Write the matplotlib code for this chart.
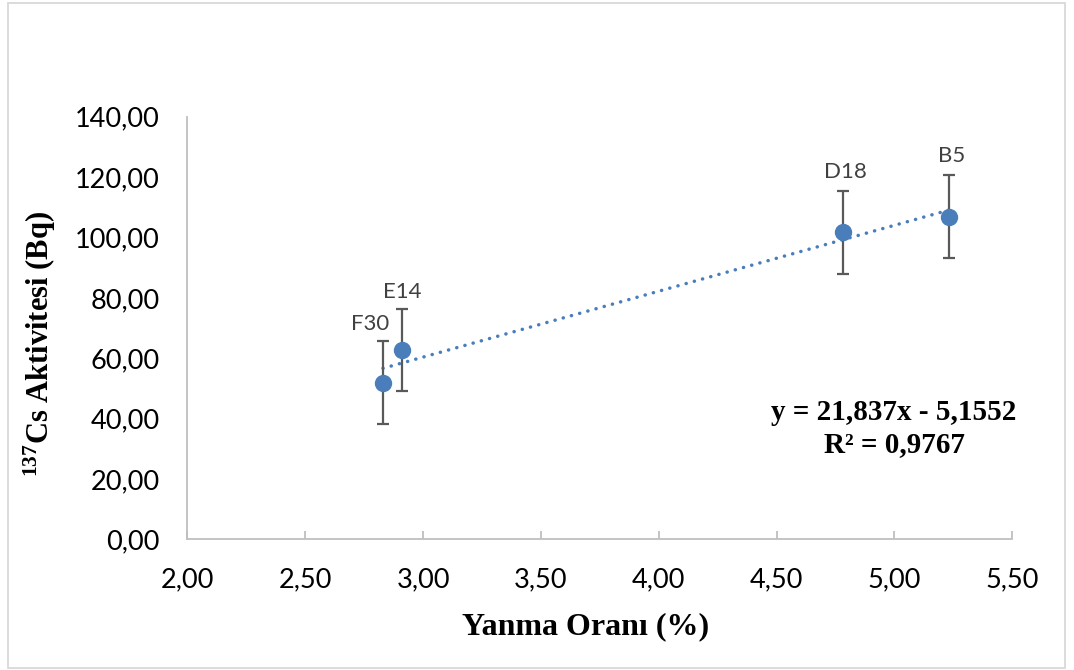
import matplotlib
matplotlib.use("Agg")
import matplotlib.pyplot as plt
from matplotlib.patches import Rectangle
from matplotlib.ticker import FuncFormatter, MultipleLocator

# Burn-up ratio (%) vs. 137Cs activity (Bq) for each sample
samples = ["F30", "E14", "D18", "B5"]
burnup = [2.83, 2.91, 4.78, 5.23]
activity = [51.9, 62.7, 101.7, 106.9]
activity_err = [13.8, 13.7, 13.8, 13.8]

# Linear trendline coefficients
slope = 21.837
intercept = -5.1552
r_squared = 0.9767

plt.rcParams["mathtext.fontset"] = "custom"
plt.rcParams["mathtext.rm"] = "Liberation Serif:bold"
plt.rcParams["mathtext.bf"] = "Liberation Serif:bold"

fig = plt.figure(figsize=(10.74, 6.70), dpi=100)
ax = fig.add_axes([0.1744, 0.1951, 0.9426 - 0.1744, 0.8258 - 0.1951])

blue = "#4A7EBB"
axis_gray = "#BFBFBF"

# trendline over the data range
x0, x1 = min(burnup), max(burnup)
ax.plot([x0, x1], [slope * x0 + intercept, slope * x1 + intercept],
        color=blue, lw=2.5, linestyle=(0, (0.05, 2.4)),
        dash_capstyle="round", zorder=2)

ax.errorbar(burnup, activity, yerr=activity_err, fmt="o", color=blue,
            markersize=11.5, ecolor="#595959", elinewidth=1.6, capsize=4.2,
            capthick=1.6, zorder=3)

# sample labels above the error bars
label_offsets = {"F30": (-13, 17), "E14": (0, 17), "D18": (3, 19), "B5": (3, 19)}
for name, x, y, e in zip(samples, burnup, activity, activity_err):
    dx, dy = label_offsets[name]
    ax.annotate(name, (x, y + e), xytext=(dx, dy), textcoords="offset pixels",
                ha="center", va="center", fontsize=16, color="#404040",
                family="Lato")

ax.set_xlim(2.0, 5.5)
ax.set_ylim(0, 140)
ax.xaxis.set_major_locator(MultipleLocator(0.5))
ax.yaxis.set_major_locator(MultipleLocator(20))
ax.xaxis.set_major_formatter(FuncFormatter(lambda v, p: f"{v:.2f}".replace(".", ",")))
ax.yaxis.set_major_formatter(FuncFormatter(lambda v, p: f"{v:.2f}".replace(".", ",")))

for side in ("top", "right"):
    ax.spines[side].set_visible(False)
for side in ("left", "bottom"):
    ax.spines[side].set_color(axis_gray)
    ax.spines[side].set_linewidth(1.3)

ax.tick_params(axis="x", direction="in", length=6, width=1.3, color=axis_gray,
               pad=20, labelsize=19.5)
ax.tick_params(axis="y", length=0, pad=20, labelsize=19.5)
for lbl in ax.get_xticklabels() + ax.get_yticklabels():
    lbl.set_family("Lato")
    lbl.set_color("black")

ax.set_xlabel("Yanma Oranı (%)", family="Liberation Serif", fontweight="bold",
              fontsize=23, va="center", ha="center")
ax.xaxis.set_label_coords(0.483, -0.2075)
ax.set_ylabel(r"$\mathrm{^{137}}$Cs Aktivitesi (Bq)", family="Liberation Serif",
              fontweight="bold", fontsize=22, va="center", ha="center")
ax.yaxis.set_label_coords(-0.1785, 0.462)

eq = f"y = {slope:.3f}x - {abs(intercept):.4f}".replace(".", ",")
r2 = f"R² = {r_squared:.4f}".replace(".", ",")
fig.text(894 / 1074, 1 - 413 / 670, eq, ha="center", va="center",
         family="Liberation Serif", fontweight="bold", fontsize=21)
fig.text(894 / 1074, 1 - 445 / 670, r2, ha="center", va="center",
         family="Liberation Serif", fontweight="bold", fontsize=21)

# chart area border
fig.patches.append(Rectangle((8 / 1074, 1 - 668 / 670), (1065 - 8) / 1074,
                             (668 - 3) / 670, transform=fig.transFigure,
                             fill=False, edgecolor="#D9D9D9", lw=1.3))

fig.savefig("out.png", dpi=100)
